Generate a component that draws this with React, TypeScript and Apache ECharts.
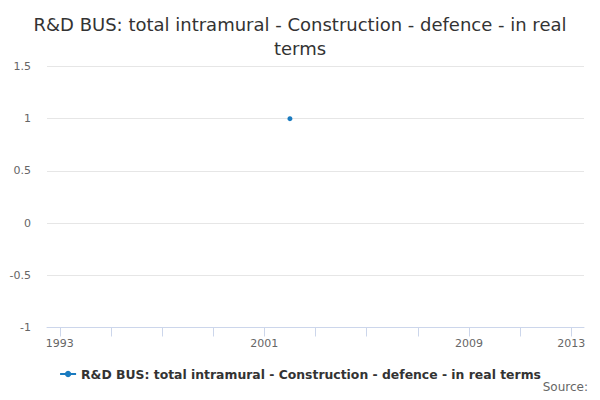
import React, { useEffect, useRef } from "react"
import * as echarts from "echarts"

const TITLE = "R&D BUS: total intramural - Construction - defence - in real\nterms"
const SERIES_NAME = "R&D BUS: total intramural - Construction - defence - in real terms"

const years = [
  "1993", "1994", "1995", "1996", "1997", "1998", "1999", "2000", "2001", "2002", "2003",
  "2004", "2005", "2006", "2007", "2008", "2009", "2010", "2011", "2012", "2013",
]
const values: (number | null)[] = [
  null, null, null, null, null, null, null, null, null, 1, null,
  null, null, null, null, null, null, null, null, null, null,
]
const labelledYears = ["1993", "2001", "2009", "2013"]

const FONT = "'DejaVu Sans', Verdana, sans-serif"
const BLUE = "#1a7bc0"

export default function App() {
  const ref = useRef<HTMLDivElement>(null)

  useEffect(() => {
    if (!ref.current) return
    const chart = echarts.init(ref.current, undefined, { renderer: "svg" })
    chart.setOption({
      animation: false,
      backgroundColor: "#ffffff",
      textStyle: { fontFamily: FONT },
      title: {
        text: TITLE,
        left: "center",
        top: 7,
        textStyle: { fontSize: 18, fontWeight: "normal", color: "#333333", lineHeight: 24, fontFamily: FONT },
      },
      legend: {
        bottom: 15,
        left: "center",
        itemWidth: 16,
        itemHeight: 8,
        itemGap: 5,
        textStyle: { fontSize: 12.4, fontWeight: "bold", color: "#333333", fontFamily: FONT },
        data: [SERIES_NAME],
      },
      grid: { left: 47, right: 16, top: 66.5, bottom: 72.5, containLabel: false },
      xAxis: {
        type: "category",
        data: years,
        boundaryGap: true,
        axisLine: { onZero: false, lineStyle: { color: "#ccd6eb" } },
        axisTick: {
          show: true,
          alignWithLabel: true,
          length: 9,
          lineStyle: { color: "#ccd6eb" },
          interval: (i: number) => i % 2 === 0,
        },
        axisLabel: {
          color: "#666666",
          fontSize: 11,
          margin: 10,
          fontFamily: FONT,
          interval: (_i: number, v: string) => labelledYears.includes(v),
        },
        splitLine: { show: false },
      },
      yAxis: {
        type: "value",
        min: -1,
        max: 1.5,
        interval: 0.5,
        axisLine: { show: false },
        axisTick: { show: false },
        axisLabel: { color: "#666666", fontSize: 11, margin: 16, fontFamily: FONT },
        splitLine: { lineStyle: { color: "#e6e6e6" } },
      },
      series: [
        {
          name: SERIES_NAME,
          type: "line",
          data: values,
          color: BLUE,
          symbol: "circle",
          symbolSize: 5,
          showSymbol: true,
          connectNulls: false,
          lineStyle: { width: 2, color: BLUE },
          itemStyle: { color: BLUE },
        },
      ],
      graphic: [
        {
          type: "text",
          right: 12,
          top: 381,
          style: { text: "Source:", fontSize: 12, fill: "#666666", fontFamily: FONT },
        },
      ],
    })
    return () => chart.dispose()
  }, [])

  return <div ref={ref} style={{ width: 600, height: 400, margin: -8 }} />
}
